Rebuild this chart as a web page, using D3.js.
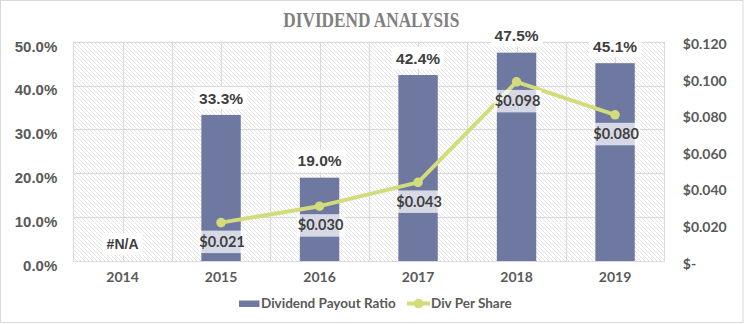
<!DOCTYPE html>
<html>
<head>
<meta charset="utf-8">
<script src="https://cdn.jsdelivr.net/npm/d3@7"></script>
<style>
  html, body { margin: 0; padding: 0; background: #fff; }
  svg { display: block; }
</style>
</head>
<body>
<div id="chart"></div>
<script>
// ---- data ----
const categories = ["2014", "2015", "2016", "2017", "2018", "2019"];
const payoutRatio = [null, 0.333, 0.190, 0.424, 0.475, 0.451];
const divPerShare = [null, 0.021, 0.030, 0.043, 0.098, 0.080];
const leftTicks = [0, 0.1, 0.2, 0.3, 0.4, 0.5];
const rightTicks = [0, 0.02, 0.04, 0.06, 0.08, 0.10, 0.12];
const seriesNames = ["Dividend Payout Ratio", "Div Per Share"];
const chartTitle = "DIVIDEND ANALYSIS";

// ---- layout ----
const W = 744, H = 324;
const plot = { left: 73.3, right: 664.3, top: 41.7, bottom: 261 };
const barColor = "#6E78A1";
const lineColor = "#D3DC7A";
const gridColor = "#D9D9D9";

const svg = d3.select("#chart").append("svg").attr("width", W).attr("height", H);

// pattern for hatched background
const defs = svg.append("defs");
const pat = defs.append("pattern").attr("id", "hatch").attr("patternUnits", "userSpaceOnUse")
  .attr("width", 4).attr("height", 4);
pat.append("rect").attr("width", 4).attr("height", 4).attr("fill", "#fff");
pat.append("path").attr("d", "M-1,-1 L5,5 M-1,3 L1,5 M3,-1 L5,1")
  .attr("stroke", "#E0E0E0").attr("stroke-width", 0.9);

// chart border
svg.append("rect").attr("x", 0.5).attr("y", 0.5).attr("width", W - 1.5).attr("height", 322)
  .attr("fill", "#fff").attr("stroke", gridColor);

// scales
const x = d3.scaleBand().domain(categories).range([plot.left, plot.right])
  .paddingInner(0.6).paddingOuter(0.3);
const yL = d3.scaleLinear().domain([0, 0.5]).range([plot.bottom, plot.top]);
const yR = d3.scaleLinear().domain([0, 0.12]).range([plot.bottom, plot.top]);
const cx = d => x(d) + x.bandwidth() / 2;

// plot area background
svg.append("rect").attr("x", plot.left).attr("y", plot.top)
  .attr("width", plot.right - plot.left).attr("height", plot.bottom - plot.top)
  .attr("fill", "url(#hatch)");

// gridlines
const g = svg.append("g");
g.selectAll("line.h").data(leftTicks).join("line")
  .attr("x1", plot.left).attr("x2", plot.right)
  .attr("y1", d => Math.round(yL(d)) + 0.5).attr("y2", d => Math.round(yL(d)) + 0.5)
  .attr("stroke", gridColor);
const halfStep = x.step() / 2;
const vlines = d3.range(0, categories.length * 2 + 1).map(k => plot.left + k * halfStep);
g.selectAll("line.v").data(vlines).join("line")
  .attr("x1", d => Math.round(d) + 0.5).attr("x2", d => Math.round(d) + 0.5)
  .attr("y1", plot.top).attr("y2", plot.bottom)
  .attr("stroke", gridColor);

// bars
const barData = categories.map((c, i) => ({ c, v: payoutRatio[i] }));
svg.append("g").selectAll("rect").data(barData.filter(d => d.v != null)).join("rect")
  .attr("x", d => x(d.c)).attr("width", x.bandwidth())
  .attr("y", d => yL(d.v)).attr("height", d => yL(0) - yL(d.v))
  .attr("fill", barColor);

// axes
const axL = svg.append("g").attr("transform", `translate(${plot.left - 16},0)`)
  .call(d3.axisLeft(yL).tickValues(leftTicks).tickFormat(d3.format(".1%")).tickSize(0));
axL.select(".domain").remove();
axL.selectAll("text").attr("font-family", "Liberation Sans, Arial, sans-serif")
  .attr("font-weight", "bold").attr("font-size", 15).attr("fill", "#595959")
  .attr("dy", "0.62em").attr("x", 0);

const axR = svg.append("g").attr("transform", `translate(${plot.right + 18.5},0)`)
  .call(d3.axisRight(yR).tickValues(rightTicks)
    .tickFormat(d => d === 0 ? "$-" : "$" + d3.format(".3f")(d)).tickSize(0));
axR.select(".domain").remove();
axR.selectAll("text").attr("font-family", "Lato, sans-serif")
  .attr("font-weight", "bold").attr("font-size", 14).attr("fill", "#595959")
  .attr("dy", "0.5em").attr("x", 0);

const axB = svg.append("g").attr("transform", `translate(0,${plot.bottom})`)
  .call(d3.axisBottom(x).tickSize(0));
axB.select(".domain").attr("stroke", gridColor);
axB.selectAll("text").attr("font-family", "Lato, sans-serif")
  .attr("font-weight", "bold").attr("font-size", 14).attr("fill", "#595959")
  .attr("y", 0).attr("dy", "1.48em");

// line
const lineData = categories.map((c, i) => ({ c, v: divPerShare[i] })).filter(d => d.v != null);
svg.append("path").datum(lineData)
  .attr("d", d3.line().x(d => cx(d.c)).y(d => yR(d.v)))
  .attr("fill", "none").attr("stroke", lineColor).attr("stroke-width", 4)
  .attr("stroke-linejoin", "round");
svg.append("g").selectAll("circle").data(lineData).join("circle")
  .attr("cx", d => cx(d.c)).attr("cy", d => yR(d.v)).attr("r", 4.8)
  .attr("fill", lineColor);

// bar labels
const bl = svg.append("g").selectAll("g").data(barData).join("g")
  .attr("transform", d => `translate(${cx(d.c)},${yL(d.v || 0) - 17})`);
bl.append("rect").attr("class", "bg").attr("fill", "#fff");
bl.append("text").attr("text-anchor", "middle").attr("dy", "0.36em")
  .attr("font-family", "Liberation Sans, Arial, sans-serif").attr("font-weight", "bold")
  .attr("font-size", d => d.v == null ? 14 : 15.5).attr("fill", "#404040")
  .text(d => d.v == null ? "#N/A" : d3.format(".1%")(d.v));
bl.each(function () {
  const t = d3.select(this).select("text").node().getBBox();
  d3.select(this).select("rect").attr("x", t.x - 4).attr("y", -11).attr("width", t.width + 8).attr("height", 22);
});

// line labels
const ll = svg.append("g").selectAll("g").data(lineData).join("g")
  .attr("transform", d => `translate(${cx(d.c) + 1},${yR(d.v) + 19})`);
ll.append("rect").attr("fill", "#fff").attr("fill-opacity", 0.72);
ll.append("text").attr("text-anchor", "middle").attr("dy", "0.36em")
  .attr("font-family", "Lato, sans-serif").attr("font-weight", "bold")
  .attr("font-size", 14.5).attr("fill", "#404040")
  .text(d => "$" + d3.format(".3f")(d.v));
ll.each(function () {
  const t = d3.select(this).select("text").node().getBBox();
  d3.select(this).select("rect").attr("x", t.x - 1).attr("y", -11).attr("width", t.width + 2).attr("height", 22.5);
});

// title
svg.append("text").attr("x", 371.3).attr("y", 27.3).attr("text-anchor", "middle")
  .attr("font-family", "Liberation Serif, Times New Roman, serif").attr("font-weight", "bold")
  .attr("font-size", 20.5).attr("fill", "#7F7F7F")
  .attr("textLength", 176).attr("lengthAdjust", "spacingAndGlyphs")
  .text(chartTitle);

// legend
const lg = svg.append("g").attr("font-family", "Lato, sans-serif").attr("font-weight", "bold")
  .attr("font-size", 13.5).attr("fill", "#595959");
lg.append("rect").attr("x", 239).attr("y", 300.5).attr("width", 20.5).attr("height", 6.5).attr("fill", barColor);
lg.append("text").attr("x", 261).attr("y", 303.5).attr("dy", "0.36em").text(seriesNames[0]);
lg.append("line").attr("x1", 407).attr("x2", 430).attr("y1", 303.5).attr("y2", 303.5)
  .attr("stroke", lineColor).attr("stroke-width", 4);
lg.append("circle").attr("cx", 418.5).attr("cy", 303.5).attr("r", 4.8).attr("fill", lineColor);
lg.append("text").attr("x", 431).attr("y", 303.5).attr("dy", "0.36em").text(seriesNames[1]);
</script>
</body>
</html>
